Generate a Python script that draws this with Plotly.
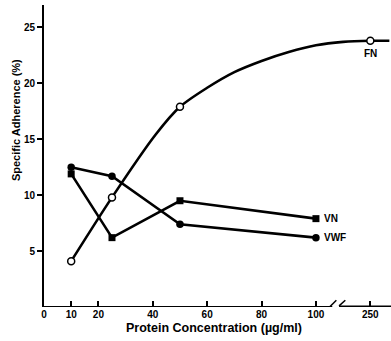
import plotly.graph_objects as go

# ---- data ----
x_tick_labels = ["0", "10", "20", "40", "60", "80", "100", "250"]
x_tick_values = [0, 10, 20, 40, 60, 80, 100, 250]
y_tick_values = [5, 10, 15, 20, 25]

conc = [10, 25, 50, 100]
vn = [11.9, 6.2, 9.5, 7.9]
vwf = [12.5, 11.7, 7.4, 6.2]

fn_conc = [10, 25, 50, 250]
fn = [4.1, 9.8, 17.9, 23.8]

# hand-drawn FN fit curve, given in plotted (broken-axis) positions
fn_curve_pos = [10, 25, 41, 50, 60, 70, 80, 90, 100, 110, 120, 127]
fn_curve_val = [4.1, 9.8, 15.4, 17.9, 19.6, 21.0, 22.0, 22.8, 23.4, 23.7, 23.8, 23.8]

# broken axis: values beyond the break are drawn at this position
BREAK_POS = {250: 120}


def pos(v):
    return BREAK_POS.get(v, v)


FONT = "Liberation Sans, Arial, Helvetica, sans-serif"
BLACK = "#000000"

fig = go.Figure()

fig.add_trace(go.Scatter(
    x=fn_curve_pos, y=fn_curve_val, mode="lines",
    line=dict(color=BLACK, width=2.6, shape="spline", smoothing=0.8),
    hoverinfo="skip", showlegend=False))

fig.add_trace(go.Scatter(
    x=[pos(v) for v in conc], y=vn, mode="lines+markers",
    line=dict(color=BLACK, width=2.6),
    marker=dict(symbol="square", size=7, color=BLACK),
    showlegend=False, cliponaxis=False))

fig.add_trace(go.Scatter(
    x=[pos(v) for v in conc], y=vwf, mode="lines+markers",
    line=dict(color=BLACK, width=2.6),
    marker=dict(symbol="circle", size=7.5, color=BLACK),
    showlegend=False, cliponaxis=False))

fig.add_trace(go.Scatter(
    x=[pos(v) for v in fn_conc], y=fn, mode="markers",
    marker=dict(symbol="circle", size=7, color="white",
                line=dict(color=BLACK, width=1.5)),
    showlegend=False, cliponaxis=False))

# series labels
fig.add_annotation(x=pos(250), y=fn[-1], text="FN", showarrow=False,
                   yshift=-13, font=dict(family=FONT, size=10, color=BLACK, weight="bold"))
fig.add_annotation(x=pos(100), y=vn[-1], text="VN", showarrow=False,
                   xanchor="left", xshift=6,
                   font=dict(family=FONT, size=10, color=BLACK, weight="bold"))
fig.add_annotation(x=pos(100), y=vwf[-1], text="VWF", showarrow=False,
                   xanchor="left", xshift=6,
                   font=dict(family=FONT, size=10, color=BLACK, weight="bold"))

# axis titles
fig.add_annotation(xref="paper", yref="paper", x=-28 / 347, y=0.619,
                   xanchor="center", yanchor="middle",
                   text="Specific Adherence (%)", textangle=-90, showarrow=False,
                   font=dict(family=FONT, size=11, color=BLACK, weight="bold"))
fig.add_annotation(xref="paper", yref="paper", x=0.49, y=-0.0695,
                   xanchor="center", yanchor="middle",
                   text="Protein Concentration (µg/ml)", showarrow=False,
                   font=dict(family=FONT, size=12.5, color=BLACK, weight="bold"))

# broken x axis line
line = dict(color=BLACK, width=2)
fig.add_shape(type="line", xref="x", yref="y", x0=0, x1=106, y0=0, y1=0, line=line)
fig.add_shape(type="line", xref="x", yref="y", x0=105, x1=107.5, y0=0, y1=0.6, line=dict(color=BLACK, width=1.5))
fig.add_shape(type="line", xref="x", yref="y", x0=108.5, x1=110.8, y0=0.1, y1=0.6, line=dict(color=BLACK, width=1.5))
fig.add_shape(type="line", xref="x", yref="y", x0=108.5, x1=128, y0=0.05, y1=0.05, line=line)

fig.update_layout(
    width=391, height=341,
    margin=dict(l=44, r=0, t=5, b=34),
    paper_bgcolor="white", plot_bgcolor="white",
    font=dict(family=FONT, color=BLACK),
    xaxis=dict(range=[0, 127.6], showgrid=False, zeroline=False, showline=False,
               tickvals=[pos(v) for v in x_tick_values], ticktext=x_tick_labels,
               ticks="inside", ticklen=6, tickwidth=1.5, tickcolor=BLACK,
               tickfont=dict(family=FONT, size=10, color=BLACK, weight="bold")),
    yaxis=dict(range=[0, 27], showgrid=False, zeroline=False, showline=True,
               linecolor=BLACK, linewidth=2,
               tickvals=y_tick_values, ticks="outside", ticklen=5, tickwidth=1.5,
               tickcolor=BLACK,
               tickfont=dict(family=FONT, size=10, color=BLACK, weight="bold")),
)

fig.write_html("out.html", config={"displayModeBar": False},
               post_script="document.body.style.margin='0';")
